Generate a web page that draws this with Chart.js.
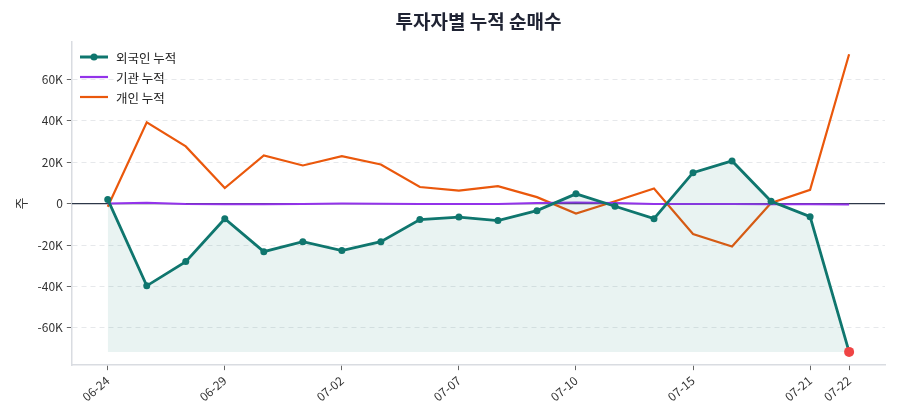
<!DOCTYPE html>
<html>
<head>
<meta charset="utf-8">
<script src="https://cdn.jsdelivr.net/npm/chart.js@4.4.1/dist/chart.umd.min.js"></script>
<style>
  html, body { margin: 0; padding: 0; background: #fff; }
  #wrap { width: 900px; height: 420px; }
</style>
</head>
<body>
<div id="wrap"><canvas id="flowChart" width="900" height="420"></canvas></div>
<script>
// trading days
var dates = ['06-24','06-25','06-26','06-29','06-30','07-01','07-02','07-03','07-06','07-07',
             '07-08','07-09','07-10','07-13','07-14','07-15','07-16','07-17','07-21','07-22'];
// cumulative net buying (shares)
var foreign = [2000,-39700,-28000,-7300,-23200,-18400,-22700,-18400,-7700,-6500,
               -8200,-3400,4700,-1300,-7300,14900,20600,1100,-6300,-71600];
var institution = [0,400,-200,-300,-300,-200,0,-100,-200,-200,
                   -200,300,500,300,-200,-200,-200,-300,-300,-500];
var individual = [-1500,39200,27600,7500,23200,18400,22900,18900,8000,6300,
                  8400,3100,-4800,1100,7300,-14700,-20700,300,6600,72100];
var tickIdx = [0,3,6,9,12,15,18,19];
var yTicks = [-60000,-40000,-20000,0,20000,40000,60000];

var fontFam = "'Noto Sans CJK KR', 'Noto Sans', sans-serif";
var teal = '#0f766e', purple = '#9333ea', orange = '#ea580c';

function pts(arr) {
  return arr.map(function(v, i) { return {x: i, y: v}; });
}
var minForeign = Math.min.apply(null, foreign);

// zero line + title + legend inside the plot
var extras = {
  id: 'extras',
  beforeDatasetsDraw: function(chart) {
    var ctx = chart.ctx, a = chart.chartArea, y0 = chart.scales.y.getPixelForValue(0);
    ctx.save();
    ctx.strokeStyle = '#2d3748';
    ctx.lineWidth = 1.2;
    ctx.beginPath();
    ctx.moveTo(a.left, y0);
    ctx.lineTo(a.right, y0);
    ctx.stroke();
    ctx.restore();
  },
  afterDraw: function(chart) {
    var ctx = chart.ctx, a = chart.chartArea;
    ctx.save();
    ctx.fillStyle = '#1f2333';
    ctx.font = "bold 19px " + fontFam;
    ctx.textAlign = 'center';
    ctx.textBaseline = 'middle';
    ctx.fillText('투자자별 누적 순매수', (a.left + a.right) / 2, 22);

    var items = [
      {label: '외국인 누적', color: teal, dot: true, w: 3},
      {label: '기관 누적', color: purple, dot: false, w: 2.2},
      {label: '개인 누적', color: orange, dot: false, w: 2.2}
    ];
    ctx.font = "12.5px " + fontFam;
    ctx.textAlign = 'left';
    items.forEach(function(it, i) {
      var y = 57 + i * 20;
      ctx.strokeStyle = it.color;
      ctx.lineWidth = it.w;
      ctx.beginPath();
      ctx.moveTo(80, y);
      ctx.lineTo(108, y);
      ctx.stroke();
      if (it.dot) {
        ctx.fillStyle = it.color;
        ctx.beginPath();
        ctx.arc(94, y, 3.5, 0, Math.PI * 2);
        ctx.fill();
      }
      ctx.fillStyle = '#222';
      ctx.fillText(it.label, 116, y + 1);
    });
    ctx.restore();
  }
};

var ptColors = foreign.map(function(v, i) { return i == foreign.length - 1 ? '#ef4444' : teal; });
var ptRadius = foreign.map(function(v, i) { return i == foreign.length - 1 ? 5 : 3.5; });

new Chart(document.getElementById('flowChart'), {
  type: 'line',
  data: {
    datasets: [{
      label: '외국인 누적',
      data: pts(foreign),
      borderColor: teal,
      borderWidth: 2.8,
      pointBackgroundColor: ptColors,
      pointBorderColor: ptColors,
      pointRadius: ptRadius,
      pointBorderWidth: 0,
      backgroundColor: 'rgba(15,118,110,0.09)',
      fill: {value: minForeign},
      tension: 0,
      order: 1
    }, {
      label: '기관 누적',
      data: pts(institution),
      borderColor: purple,
      borderWidth: 2,
      pointRadius: 0,
      fill: false,
      order: 2
    }, {
      label: '개인 누적',
      data: pts(individual),
      borderColor: orange,
      borderWidth: 2.2,
      pointRadius: 0,
      fill: false,
      order: 3
    }]
  },
  options: {
    responsive: false,
    animation: false,
    layout: { padding: {top: 42, right: 15, left: 13, bottom: 13} },
    plugins: {
      legend: { display: false },
      title: { display: false },
      tooltip: { enabled: false }
    },
    scales: {
      x: {
        type: 'linear',
        min: -0.92,
        max: dates.length - 1 + 0.92,
        afterBuildTicks: function(scale) {
          scale.ticks = tickIdx.map(function(i) { return {value: i}; });
        },
        ticks: {
          autoSkip: false,
          maxRotation: 40,
          minRotation: 40,
          color: '#333',
          font: {family: fontFam, size: 12},
          callback: function(v) { return dates[v]; }
        },
        grid: { drawOnChartArea: false, drawTicks: true, tickLength: 5, tickColor: '#666', tickWidth: 1 },
        border: { color: '#d9dce1', width: 1.5 }
      },
      y: {
        min: -78000,
        max: 78000,
        afterBuildTicks: function(scale) {
          scale.ticks = yTicks.map(function(v) { return {value: v}; });
        },
        ticks: {
          color: '#333',
          font: {family: fontFam, size: 12},
          padding: 4,
          callback: function(v) { return v == 0 ? '0' : (v / 1000) + 'K'; }
        },
        title: {
          display: true,
          text: '주',
          color: '#333',
          font: {family: fontFam, size: 13},
          padding: {top: 0, bottom: 5}
        },
        grid: {
          color: function(c) { return c.tick && c.tick.value == 0 ? 'rgba(0,0,0,0)' : '#e6e8eb'; },
          lineWidth: 1,
          tickLength: 5,
          tickColor: '#666'
        },
        border: { color: '#d9dce1', width: 1.5, dash: [5, 4] }
      }
    }
  },
  plugins: [extras]
});
</script>
</body>
</html>
